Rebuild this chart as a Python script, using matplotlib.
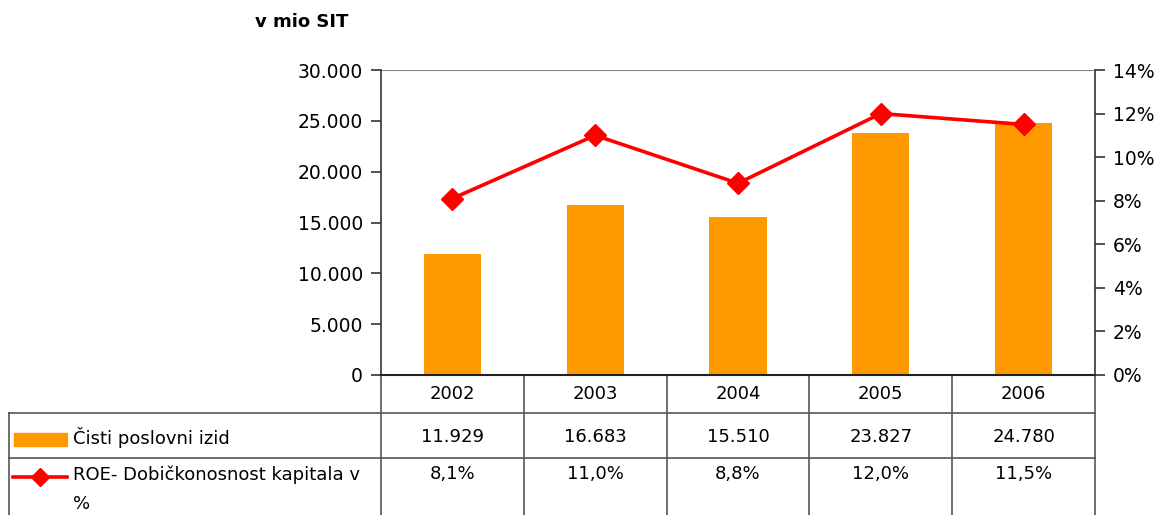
import matplotlib
matplotlib.use("Agg")
import matplotlib.pyplot as plt
from matplotlib.lines import Line2D
from matplotlib.patches import Rectangle
from matplotlib.ticker import FuncFormatter, FixedLocator

plt.rcParams['font.family'] = ['DejaVu Sans']

years = ["2002", "2003", "2004", "2005", "2006"]
profit = [11929, 16683, 15510, 23827, 24780]
roe = [8.1, 11.0, 8.8, 12.0, 11.5]
profit_labels = ["11.929", "16.683", "15.510", "23.827", "24.780"]
roe_labels = ["8,1%", "11,0%", "8,8%", "12,0%", "11,5%"]
series_names = ["Čisti poslovni izid", "ROE- Dobičkonosnost kapitala v\n%"]
unit_label = "v mio SIT"

W, H = 1157, 515
fig = plt.figure(figsize=(W / 100, H / 100), dpi=100)

x0, x1 = 381, 1095
ytop, ybot = 70, 375
ax = fig.add_axes([x0 / W, 1 - ybot / H, (x1 - x0) / W, (ybot - ytop) / H])
ax2 = ax.twinx()

orange = "#FF9900"
red = "#FF0000"
xs = list(range(len(years)))

ax.bar(xs, profit, width=0.4, color=orange, zorder=2)
ax.set_xlim(-0.5, len(years) - 0.5)
ax.set_ylim(0, 30000)
ax.yaxis.set_major_locator(FixedLocator([0, 5000, 10000, 15000, 20000, 25000, 30000]))
ax.yaxis.set_major_formatter(FuncFormatter(lambda v, p: f"{int(v):,}".replace(",", ".")))
ax.set_xticks([])

ax2.plot(xs, roe, color=red, lw=2.6, marker='D', ms=11, zorder=3)
ax2.set_ylim(0, 14)
ax2.yaxis.set_major_locator(FixedLocator(list(range(0, 15, 2))))
ax2.yaxis.set_major_formatter(FuncFormatter(lambda v, p: f"{int(v)}%"))
ax2.set_xticks([])

for a in (ax, ax2):
    for s in a.spines.values():
        s.set_visible(False)
ax.spines['left'].set_visible(True)
ax.spines['left'].set_color('#333333')
ax.spines['left'].set_linewidth(1.2)
ax2.spines['right'].set_visible(True)
ax2.spines['right'].set_color('#333333')
ax2.spines['right'].set_linewidth(1.2)
ax.spines['bottom'].set_visible(True)
ax.spines['bottom'].set_color('#222222')
ax.spines['bottom'].set_linewidth(1.5)
ax.axhline(30000, color='#888888', lw=1.5, zorder=1)

ax.tick_params(axis='y', direction='out', length=7, width=1.2, color='#333333',
               labelsize=13.5, pad=6)
ax2.tick_params(axis='y', direction='out', length=7, width=1.2, color='#333333',
                labelsize=13.5, pad=6)

# unit label
fig.text(255 / W, 1 - 22 / H, unit_label, fontsize=13, fontweight='bold',
         ha='left', va='center')

# table overlay in pixel coordinates
tab = fig.add_axes([0, 0, 1, 1], zorder=-1)
tab.set_xlim(0, W)
tab.set_ylim(H, 0)
tab.axis('off')

lc = '#555555'
fs = 13
colw = (x1 - x0) / len(years)
tab.add_line(Line2D([9, x1], [413, 413], color=lc, lw=1.2))
tab.add_line(Line2D([9, x1], [458, 458], color=lc, lw=1.2))
tab.add_line(Line2D([9, 9], [413, H], color=lc, lw=1.2))
for i in range(len(years) + 1):
    xv = x0 + i * colw
    tab.add_line(Line2D([xv, xv], [375, H], color=lc, lw=1.2))

for i, yr in enumerate(years):
    cx = x0 + (i + 0.5) * colw
    tab.text(cx, 394, yr, ha='center', va='center', fontsize=fs)
    tab.text(cx, 437, profit_labels[i], ha='center', va='center', fontsize=fs)
    tab.text(cx, 474, roe_labels[i], ha='center', va='center', fontsize=fs)

# legend keys
tab.add_patch(Rectangle((14, 433), 53, 13, color=orange))
tab.text(73, 438, series_names[0], ha='left', va='center', fontsize=fs)
tab.add_line(Line2D([13, 67], [477, 477], color=red, lw=2.6))
tab.add_line(Line2D([40], [477], color=red, marker='D', ms=9, lw=0))
first, second = series_names[1].split("\n")
tab.text(73, 475, first, ha='left', va='center', fontsize=fs)
tab.text(73, 504, second, ha='left', va='center', fontsize=fs)

fig.savefig("out.png", dpi=100)
